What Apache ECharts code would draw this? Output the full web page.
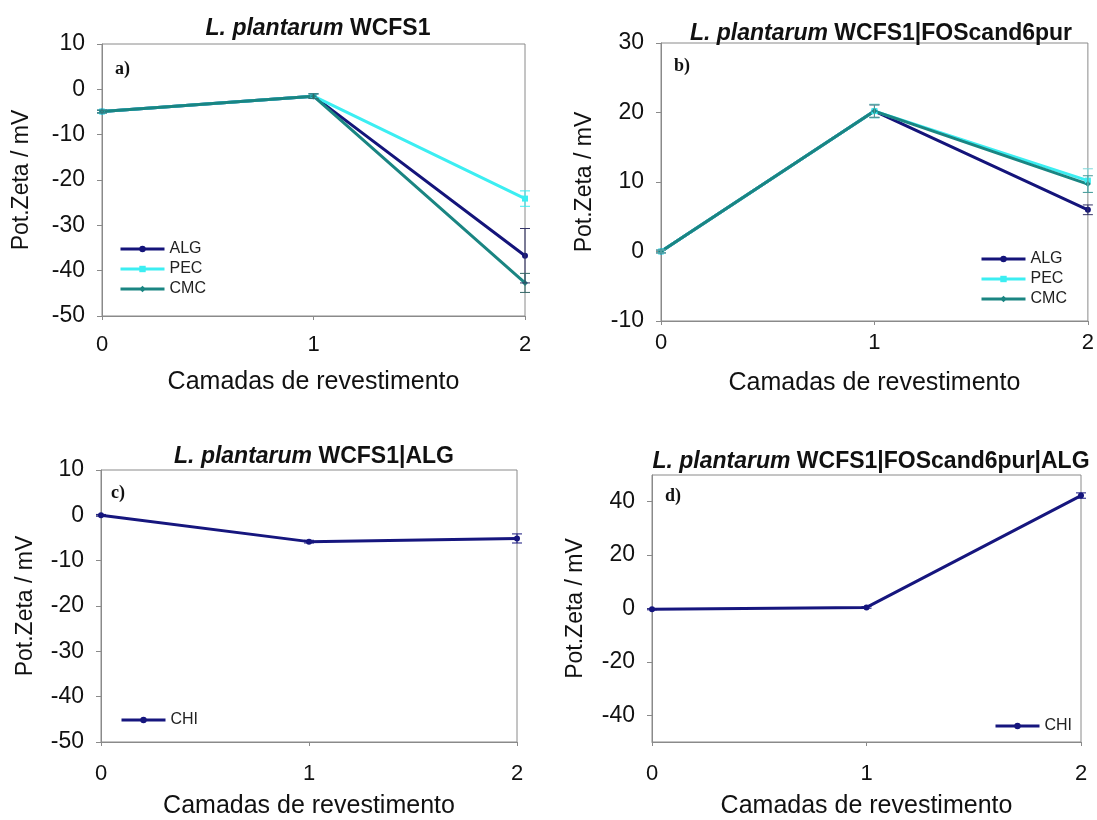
<!DOCTYPE html>
<html>
<head>
<meta charset="utf-8">
<script src="https://cdn.jsdelivr.net/npm/echarts@6/dist/echarts.min.js"></script>
<style>
html,body{margin:0;padding:0;background:#fff;}
#chart{width:1097px;height:820px;}
</style>
</head>
<body>
<div id="chart"></div>
<script>
// ---- data ----
const layers = [0, 1, 2];
const xTicks = [0, 1, 2];

const aALG = [-4.9, -1.5, -36.7];
const aPEC = [-4.9, -1.5, -24.1];
const aCMC = [-4.9, -1.5, -42.7];
const aALGerr = [0.3, 0.5, 6.0];
const aPECerr = [0.3, 0.5, 1.7];
const aCMCerr = [0.3, 0.5, 2.1];

const bALG = [0, 20.2, 6.0];
const bPEC = [0, 20.2, 10.2];
const bCMC = [0, 20.2, 9.7];
const bALGerr = [0.2, 0.9, 0.7];
const bPECerr = [0.2, 1.0, 1.7];
const bCMCerr = [0.2, 0.9, 1.2];

const cCHI = [0, -5.8, -5.1];
const cCHIerr = [0.2, 0.3, 1.0];

const dCHI = [-0.3, 0.4, 42.3];
const dCHIerr = [0.2, 0.3, 1.0];

const yTicksD = [-40, -20, 0, 20, 40];

const titles = ['WCFS1', 'WCFS1|FOScand6pur', 'WCFS1|ALG', 'WCFS1|FOScand6pur|ALG'];
const species = 'L. plantarum';
const panelLetters = ['a)', 'b)', 'c)', 'd)'];
const xName = 'Camadas de revestimento';
const yName = 'Pot.Zeta / mV';

// ---- styles ----
const FONT = 'Liberation Sans, Arial, sans-serif';
const C_ALG = '#14147a';
const C_PEC = '#3ceef2';
const C_CMC = '#1a8582';
const C_CHI = '#16167e';
const AX = '#8a8a8a';

const chart = echarts.init(document.getElementById('chart'));

const grids = [
  {left: 102, top: 44, width: 423, height: 272},
  {left: 661, top: 43, width: 430, height: 278},
  {left: 101, top: 470, width: 416, height: 278},
  {left: 652, top: 475, width: 429, height: 273}
];
const xLabelMargin = [18, 11, 21, 21];
const xNameGap = [54, 50, 52, 52];

function pairs(vals) { return layers.map((x, i) => [x, vals[i]]); }
function errPairs(vals, errs) { return layers.map((x, i) => [x, vals[i], errs[i]]); }

function lineSeries(name, gi, vals, color, symbol) {
  return {
    type: 'line', name: name, xAxisIndex: gi, yAxisIndex: gi,
    data: pairs(vals), clip: false,
    symbol: symbol, symbolSize: 6, showSymbol: true,
    lineStyle: {color: color, width: 3},
    itemStyle: {color: color},
    z: 3, animation: false
  };
}
function errSeries(gi, vals, errs, color) {
  return {
    type: 'custom', xAxisIndex: gi, yAxisIndex: gi,
    data: errPairs(vals, errs), clip: false, z: 4, animation: false,
    renderItem: function (params, api) {
      const x = api.value(0), y = api.value(1), e = api.value(2);
      const hi = api.coord([x, y + e]);
      const lo = api.coord([x, y - e]);
      const w = 5;
      const st = {stroke: color, lineWidth: 1};
      return {type: 'group', children: [
        {type: 'line', shape: {x1: hi[0], y1: hi[1], x2: lo[0], y2: lo[1]}, style: st},
        {type: 'line', shape: {x1: hi[0] - w, y1: hi[1], x2: hi[0] + w, y2: hi[1]}, style: st},
        {type: 'line', shape: {x1: lo[0] - w, y1: lo[1], x2: lo[0] + w, y2: lo[1]}, style: st}
      ]};
    }
  };
}

const xAxes = grids.map((g, i) => ({
  gridIndex: i, type: 'value', min: 0, max: 2, interval: 1,
  name: xName, nameLocation: 'middle', nameGap: xNameGap[i],
  nameTextStyle: {fontFamily: FONT, fontSize: 25, color: '#111'},
  axisLine: {show: true, onZero: false, lineStyle: {color: AX, width: 1}},
  axisTick: {show: true, length: 4, lineStyle: {color: AX}},
  axisLabel: {fontFamily: FONT, fontSize: 22, color: '#111', margin: xLabelMargin[i],
    customValues: xTicks},
  splitLine: {show: false}
}));

const yCommon = (i) => ({
  gridIndex: i, type: 'value',
  name: yName, nameLocation: 'middle', nameRotate: 90,
  nameTextStyle: {fontFamily: FONT, fontSize: 23, color: '#111'},
  axisLine: {show: true, onZero: false, lineStyle: {color: AX, width: 1}},
  axisTick: {show: true, length: 5, lineStyle: {color: AX}},
  axisLabel: {fontFamily: FONT, fontSize: 23, color: '#111', margin: 17},
  splitLine: {show: false}
});

const yAxes = [
  Object.assign(yCommon(0), {min: -50, max: 10, interval: 10, nameGap: 69}),
  Object.assign(yCommon(1), {min: -10, max: 30, interval: 10, nameGap: 65}),
  Object.assign(yCommon(2), {min: -50, max: 10, interval: 10, nameGap: 64}),
  Object.assign(yCommon(3), {min: -50, max: 50, nameGap: 65})
];
yAxes[3].axisLabel = Object.assign({}, yAxes[3].axisLabel, {customValues: yTicksD});
yAxes[3].axisTick = Object.assign({}, yAxes[3].axisTick, {customValues: yTicksD});

const titleCenters = [
  [313, 12], [876, 17], [309, 440], [866, 445]
];
const letterPos = [[110, 55], [669, 52], [106, 479], [660, 482]];

const TF = 23;
const titleOpts = titles.map((t, i) => ({
  text: '{i|' + species + '} {b|' + t + '}',
  left: titleCenters[i][0], top: titleCenters[i][1], textAlign: 'center',
  textStyle: {fontFamily: FONT, fontSize: TF, fontWeight: 'bold', color: '#111',
    rich: {
      i: {fontFamily: FONT, fontSize: TF, fontWeight: 'bold', fontStyle: 'italic', color: '#111'},
      b: {fontFamily: FONT, fontSize: TF, fontWeight: 'bold', color: '#111'}
    }}
})).concat(panelLetters.map((l, i) => ({
  text: l, left: letterPos[i][0], top: letterPos[i][1],
  textStyle: {fontFamily: 'Liberation Serif, Times New Roman, serif', fontSize: 18, fontWeight: 'bold', color: '#111'}
})));

const legendCommon = {
  orient: 'vertical', itemWidth: 44, itemHeight: 8, itemGap: 4,
  lineStyle: {width: 3},
  textStyle: {fontFamily: FONT, fontSize: 16, color: '#222'},
  padding: 0
};
const legends = [
  Object.assign({}, legendCommon, {data: ['ALG', 'PEC', 'CMC'], left: 119, top: 241}),
  Object.assign({}, legendCommon, {data: ['ALG', 'PEC', 'CMC'], left: 980, top: 251}),
  Object.assign({}, legendCommon, {data: ['CHI'], left: 120, top: 712}),
  Object.assign({}, legendCommon, {data: ['CHI'], left: 994, top: 718})
];

const series = [
  lineSeries('ALG', 0, aALG, C_ALG, 'circle'),
  lineSeries('PEC', 0, aPEC, C_PEC, 'rect'),
  lineSeries('CMC', 0, aCMC, C_CMC, 'diamond'),
  errSeries(0, aALG, aALGerr, '#333366'),
  errSeries(0, aPEC, aPECerr, C_PEC),
  errSeries(0, aCMC, aCMCerr, '#336666'),
  lineSeries('ALG', 1, bALG, C_ALG, 'circle'),
  lineSeries('PEC', 1, bPEC, C_PEC, 'rect'),
  lineSeries('CMC', 1, bCMC, C_CMC, 'diamond'),
  errSeries(1, bALG, bALGerr, '#333366'),
  errSeries(1, bPEC, bPECerr, '#7fd8da'),
  errSeries(1, bCMC, bCMCerr, '#4a9a98'),
  lineSeries('CHI', 2, cCHI, C_CHI, 'circle'),
  errSeries(2, cCHI, cCHIerr, C_CHI),
  lineSeries('CHI', 3, dCHI, C_CHI, 'circle'),
  errSeries(3, dCHI, dCHIerr, C_CHI)
];

chart.setOption({
  backgroundColor: '#ffffff',
  animation: false,
  title: titleOpts,
  legend: legends,
  grid: grids.map(g => Object.assign({}, g, {show: true, borderColor: AX, borderWidth: 1, backgroundColor: 'transparent', containLabel: false})),
  xAxis: xAxes,
  yAxis: yAxes,
  series: series
});
</script>
</body>
</html>
